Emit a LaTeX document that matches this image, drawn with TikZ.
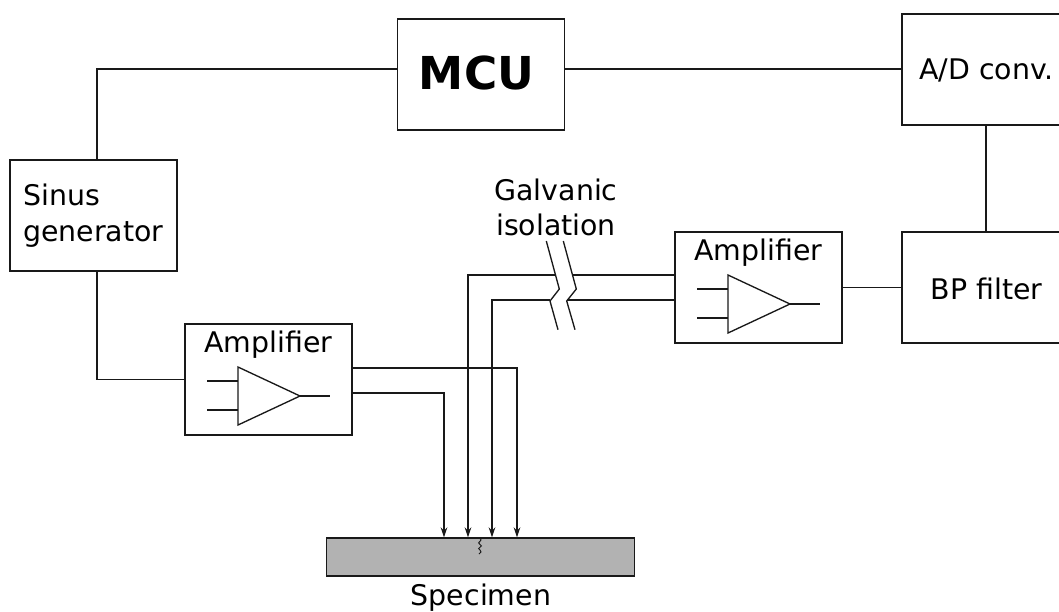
\documentclass[tikz,border=0pt]{standalone}
\usepackage{fontspec}
\setmainfont{DejaVu Sans}
\usetikzlibrary{arrows.meta}
\definecolor{ink}{gray}{0.1}
\tikzset{
  x=0.75pt,y=-0.75pt,
  boxnode/.style={draw=ink,line width=1.05pt,fill=white,inner sep=0pt,minimum width=125.5pt,minimum height=83.25pt},
  txt/.style={font=\fontsize{21.3}{26.5}\selectfont,text=black,inner sep=0pt,align=center},
  wire/.style={draw=ink,line width=1pt},
  probe/.style={wire,-{Stealth[length=7.5pt,width=5pt]}},
  iso/.style={draw=ink,line width=1pt},
}
\newcommand{\opamp}[2]{%
  \begin{scope}[shift={(#1,#2)}]
    \draw[wire] (207,381) -- (238,381);
    \draw[wire] (207,410) -- (238,410);
    \draw[wire] (300,396) -- (330,396);
    \draw[wire,line join=miter] (238,367) -- (238,425) -- (300,396) -- cycle;
  \end{scope}}
\begin{document}
\begin{tikzpicture}
\useasboundingbox (0,0) rectangle (1059,611);
% boxes
\node[boxnode] (mcu) at (481,74.5) {};
\node[boxnode,minimum width=120pt] (adc) at (982,69.5) {};
\node[boxnode,minimum width=120pt] (bp) at (982,287.5) {};
\node[boxnode] (sinus) at (93.5,215.5) {};
\node[boxnode] (amp1) at (268.5,379.5) {};
\node[boxnode] (amp2) at (758.5,287.5) {};
\node[draw=ink,line width=1.05pt,fill=black!30,inner sep=0pt,minimum width=231pt,minimum height=28.5pt] (spec) at (480.5,557) {};
% labels
\node[font=\fontsize{34}{38}\selectfont\bfseries,text=black,inner sep=0pt] (mculabel) at (476.5,72.5) {MCU};
\node[txt] (adclabel) at (986.5,70) {A/D conv.};
\node[txt] (bplabel) at (986.5,288.5) {BP filter};
\node[txt,align=left,anchor=west] (sinuslabel) at (23,215.5) {Sinus\\generator};
\node[txt] (amp1label) at (268.5,345) {Amplifier};
\node[txt] (amp2label) at (758.5,253) {Amplifier};
\node[txt] (galv) at (556,207.5) {Galvanic\\isolation};
\node[txt] (speclabel) at (481,597.5) {Specimen};
% amplifier symbols
\opamp{0}{0}
\opamp{490}{-92}
% wire anchors
\coordinate (genx) at (97,69);
\coordinate (out1) at (517,368);
\coordinate (out2) at (444,393);
\coordinate (in1) at (468,275);
\coordinate (in2) at (492,300);
\coordinate (g1a) at (555,275);
\coordinate (g1b) at (573,275);
\coordinate (g2a) at (550,300);
\coordinate (g2b) at (567,300);
% connectors
\draw[wire] (mcu.west |- genx) -- (genx) -- (genx |- sinus.north);
\draw[wire] (genx |- sinus.south) -- (genx |- amp1.west) -- (amp1.west);
\draw[wire] (mcu.east |- genx) -- (adc.west |- genx);
\draw[wire] (986,125) -- (986,232);
\draw[wire] (amp2.east) -- (bp.west);
\draw[probe] (amp1.east |- out1) -- (out1) -- (out1 |- spec.north);
\draw[probe] (amp1.east |- out2) -- (out2) -- (out2 |- spec.north);
\draw[probe] (g1a) -- (in1) -- (in1 |- spec.north);
\draw[probe] (g2a) -- (in2) -- (in2 |- spec.north);
\draw[wire] (g1b) -- (g1b -| amp2.west);
\draw[wire] (g2b) -- (g2b -| amp2.west);
% galvanic break
\draw[iso] (546.3,241) -- (559.3,289) -- (550,301) -- (558,329.7);
\draw[iso] (563.3,241) -- (576.3,289) -- (566.7,301) -- (575,329.7);
% crack
\draw[draw=ink,line width=0.7pt] (479,538) .. controls (485,541) and (475,542) .. (480,544.5) .. controls (485,546.5) and (475,548) .. (480,550) .. controls (482,551) and (481,553) .. (479,554);
\end{tikzpicture}
\end{document}
